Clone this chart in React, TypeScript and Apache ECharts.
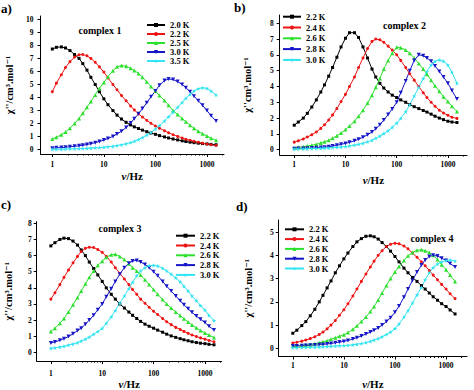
import React, { useEffect, useRef } from 'react';
import * as echarts from 'echarts';

// Frequencies (Hz) shared by all curves
const FREQ = [1, 1.2, 1.5, 1.8, 2.2, 2.7, 3.3, 3.9, 4.7, 5.6, 6.8, 8.2, 10, 12, 15, 18, 22, 27, 33, 39, 47, 56, 68, 82, 100, 120, 150, 180, 220, 270, 330, 390, 470, 560, 680, 820, 1000, 1200, 1500];

// Axis tick values
const X_MAJOR = [1, 10, 100, 1000];
const X_MINOR = [2, 3, 4, 5, 6, 7, 8, 9, 20, 30, 40, 50, 60, 70, 80, 90, 200, 300, 400, 500, 600, 700, 800, 900, 2000];
const Y_TICKS_A = [0, 1, 2, 3, 4, 5, 6, 7, 8, 9, 10];
const Y_TICKS_B = [0, 1, 2, 3, 4, 5, 6, 7, 8];
const Y_TICKS_C = [0, 1, 2, 3, 4, 5, 6, 7, 8];
const Y_TICKS_D = [0, 1, 2, 3, 4, 5];

// Legend temperatures
const TEMPS_A = ['2.0 K', '2.2 K', '2.5 K', '3.0 K', '3.5 K'];
const TEMPS_BCD = ['2.2 K', '2.4 K', '2.6 K', '2.8 K', '3.0 K'];

// complex 1
const A_20K = [7.72, 7.85, 7.88, 7.8, 7.6, 7.3, 7.0, 6.6, 6.1, 5.55, 5.0, 4.45, 3.9, 3.45, 3.0, 2.65, 2.35, 2.1, 1.9, 1.75, 1.62, 1.5, 1.38, 1.28, 1.18, 1.08, 0.98, 0.9, 0.82, 0.75, 0.68, 0.63, 0.58, 0.54, 0.5, 0.47, 0.44, 0.41, 0.38];
const A_22K = [4.45, 5.1, 5.75, 6.3, 6.75, 7.1, 7.28, 7.3, 7.2, 7.0, 6.7, 6.35, 5.95, 5.5, 5.0, 4.6, 4.15, 3.75, 3.35, 3.05, 2.75, 2.5, 2.25, 2.02, 1.82, 1.65, 1.45, 1.3, 1.15, 1.02, 0.9, 0.8, 0.72, 0.64, 0.57, 0.5, 0.44, 0.38, 0.32];
const A_25K = [0.82, 0.95, 1.15, 1.35, 1.65, 2.0, 2.4, 2.8, 3.25, 3.7, 4.2, 4.7, 5.15, 5.6, 6.05, 6.35, 6.45, 6.4, 6.25, 6.08, 5.85, 5.55, 5.2, 4.85, 4.5, 4.15, 3.78, 3.4, 3.0, 2.7, 2.4, 2.15, 1.88, 1.65, 1.42, 1.22, 1.05, 0.88, 0.72];
const A_30K = [0.12, 0.14, 0.16, 0.19, 0.22, 0.26, 0.3, 0.34, 0.4, 0.46, 0.54, 0.63, 0.74, 0.86, 1.02, 1.2, 1.42, 1.7, 2.05, 2.38, 2.75, 3.15, 3.6, 4.05, 4.5, 4.95, 5.3, 5.42, 5.38, 5.22, 5.0, 4.75, 4.45, 4.1, 3.75, 3.4, 3.0, 2.6, 2.2];
const A_35K = [0.03, 0.03, 0.04, 0.05, 0.06, 0.07, 0.08, 0.09, 0.1, 0.12, 0.14, 0.16, 0.19, 0.22, 0.27, 0.32, 0.38, 0.46, 0.55, 0.65, 0.78, 0.93, 1.12, 1.33, 1.58, 1.85, 2.2, 2.52, 2.88, 3.25, 3.62, 3.95, 4.25, 4.5, 4.68, 4.75, 4.7, 4.5, 4.2];

// complex 2
const B_22K = [1.55, 1.75, 2.0, 2.3, 2.7, 3.15, 3.65, 4.1, 4.65, 5.2, 5.85, 6.5, 7.05, 7.4, 7.4, 7.1, 6.5, 5.8, 5.1, 4.6, 4.2, 3.9, 3.65, 3.45, 3.3, 3.15, 3.0, 2.85, 2.72, 2.6, 2.48, 2.38, 2.25, 2.12, 2.0, 1.9, 1.8, 1.75, 1.72];
const B_24K = [0.48, 0.56, 0.68, 0.8, 0.95, 1.12, 1.35, 1.58, 1.88, 2.2, 2.6, 3.05, 3.5, 4.0, 4.6, 5.2, 5.8, 6.4, 6.85, 7.0, 6.95, 6.8, 6.55, 6.3, 6.0, 5.65, 5.2, 4.8, 4.4, 4.0, 3.6, 3.3, 3.0, 2.75, 2.5, 2.32, 2.18, 2.05, 1.98];
const B_26K = [0.12, 0.15, 0.19, 0.23, 0.28, 0.34, 0.42, 0.5, 0.6, 0.72, 0.88, 1.05, 1.27, 1.5, 1.8, 2.12, 2.5, 2.95, 3.45, 3.95, 4.5, 5.1, 5.65, 6.1, 6.48, 6.45, 6.3, 6.1, 5.8, 5.45, 5.1, 4.78, 4.4, 4.05, 3.7, 3.35, 3.05, 2.75, 2.42];
const B_28K = [0.06, 0.07, 0.08, 0.09, 0.1, 0.12, 0.14, 0.16, 0.19, 0.23, 0.28, 0.34, 0.4, 0.47, 0.56, 0.66, 0.79, 0.95, 1.12, 1.32, 1.58, 1.88, 2.22, 2.58, 3.0, 3.6, 4.35, 5.0, 5.65, 6.0, 5.95, 5.8, 5.6, 5.3, 4.95, 4.6, 4.2, 3.75, 3.2];
const B_30K = [0.04, 0.05, 0.05, 0.06, 0.07, 0.08, 0.09, 0.1, 0.11, 0.13, 0.15, 0.17, 0.2, 0.24, 0.29, 0.34, 0.41, 0.5, 0.6, 0.72, 0.86, 1.02, 1.2, 1.42, 1.68, 1.98, 2.4, 2.85, 3.4, 3.95, 4.5, 4.95, 5.35, 5.6, 5.68, 5.6, 5.35, 4.9, 4.2];

// complex 3
const C_22K = [6.6, 6.8, 7.0, 7.08, 7.05, 6.9, 6.65, 6.35, 6.0, 5.6, 5.2, 4.8, 4.4, 4.0, 3.6, 3.3, 3.0, 2.75, 2.5, 2.3, 2.1, 1.92, 1.75, 1.62, 1.5, 1.38, 1.25, 1.13, 1.02, 0.93, 0.85, 0.78, 0.72, 0.66, 0.61, 0.57, 0.54, 0.5, 0.47];
const C_24K = [3.3, 3.7, 4.2, 4.65, 5.1, 5.55, 5.95, 6.25, 6.45, 6.52, 6.5, 6.38, 6.2, 5.95, 5.6, 5.25, 4.9, 4.55, 4.2, 3.9, 3.6, 3.3, 3.05, 2.8, 2.55, 2.35, 2.1, 1.9, 1.72, 1.55, 1.42, 1.3, 1.18, 1.08, 0.98, 0.9, 0.82, 0.74, 0.66];
const C_26K = [1.3, 1.5, 1.8, 2.1, 2.5, 2.95, 3.4, 3.8, 4.25, 4.65, 5.05, 5.4, 5.65, 5.9, 6.05, 6.08, 5.95, 5.75, 5.5, 5.25, 5.05, 4.8, 4.5, 4.2, 3.9, 3.6, 3.28, 3.0, 2.75, 2.5, 2.28, 2.08, 1.88, 1.7, 1.52, 1.35, 1.2, 1.07, 0.93];
const C_28K = [0.58, 0.65, 0.75, 0.85, 0.98, 1.15, 1.35, 1.5, 1.75, 2.0, 2.3, 2.65, 3.0, 3.45, 3.95, 4.4, 4.85, 5.25, 5.52, 5.67, 5.7, 5.6, 5.45, 5.25, 5.0, 4.75, 4.4, 4.1, 3.8, 3.5, 3.2, 2.95, 2.7, 2.48, 2.25, 2.05, 1.85, 1.62, 1.38];
const C_30K = [0.25, 0.29, 0.33, 0.38, 0.45, 0.52, 0.6, 0.7, 0.82, 0.95, 1.12, 1.3, 1.5, 1.8, 2.2, 2.6, 3.05, 3.5, 3.95, 4.35, 4.75, 5.05, 5.25, 5.38, 5.4, 5.35, 5.22, 5.05, 4.85, 4.62, 4.38, 4.1, 3.8, 3.5, 3.2, 2.9, 2.62, 2.3, 1.97];

// complex 4
const D_22K = [0.65, 0.78, 0.98, 1.15, 1.4, 1.68, 2.0, 2.28, 2.6, 2.9, 3.25, 3.55, 3.85, 4.1, 4.38, 4.58, 4.72, 4.82, 4.84, 4.8, 4.7, 4.55, 4.38, 4.18, 3.95, 3.72, 3.45, 3.25, 3.05, 2.88, 2.7, 2.55, 2.38, 2.22, 2.07, 1.92, 1.8, 1.65, 1.48];
const D_24K = [0.23, 0.26, 0.31, 0.36, 0.42, 0.5, 0.6, 0.7, 0.84, 1.0, 1.2, 1.42, 1.66, 1.92, 2.25, 2.55, 2.88, 3.2, 3.5, 3.75, 4.0, 4.2, 4.38, 4.48, 4.52, 4.5, 4.4, 4.28, 4.1, 3.92, 3.72, 3.55, 3.35, 3.15, 2.95, 2.75, 2.55, 2.35, 2.14];
const D_26K = [0.1, 0.11, 0.13, 0.15, 0.17, 0.2, 0.24, 0.28, 0.33, 0.39, 0.46, 0.52, 0.58, 0.68, 0.82, 0.97, 1.15, 1.35, 1.58, 1.8, 2.08, 2.38, 2.7, 3.0, 3.28, 3.52, 3.78, 3.98, 4.12, 4.22, 4.24, 4.2, 4.12, 4.0, 3.82, 3.6, 3.38, 3.15, 2.88];
const D_28K = [0.1, 0.1, 0.11, 0.12, 0.13, 0.14, 0.15, 0.17, 0.19, 0.21, 0.24, 0.27, 0.3, 0.34, 0.4, 0.46, 0.53, 0.62, 0.7, 0.78, 0.88, 1.0, 1.15, 1.32, 1.55, 1.82, 2.2, 2.55, 2.92, 3.28, 3.58, 3.8, 3.95, 4.0, 3.97, 3.88, 3.78, 3.65, 3.5];
const D_30K = [0.03, 0.03, 0.04, 0.04, 0.05, 0.05, 0.06, 0.07, 0.08, 0.09, 0.1, 0.11, 0.12, 0.13, 0.15, 0.18, 0.21, 0.25, 0.3, 0.36, 0.42, 0.5, 0.6, 0.7, 0.85, 1.05, 1.35, 1.62, 1.95, 2.3, 2.62, 2.95, 3.25, 3.48, 3.63, 3.72, 3.78, 3.8, 3.76];

const SERIF = '"Liberation Serif", "Times New Roman", "DejaVu Serif", serif';
const COLORS = ['#000000', '#ee1414', '#2ee02e', '#1616c8', '#30e4f0'];
const STAR = 'path://M50,0 L61,35 L98,35 L68,57 L79,91 L50,70 L21,91 L32,57 L2,35 L39,35 Z';
const SYMBOLS = ['rect', 'circle', 'triangle', 'triangle', STAR];
const ROTATE = [0, 0, 0, 180, 0];
const SIZES = [3, 3, 4, 4, 4.5];

const PANELS = [
  {
    key: 'a', label: 'a)', title: 'complex 1', temps: TEMPS_A,
    values: [A_20K, A_22K, A_25K, A_30K, A_35K], yTicks: Y_TICKS_A,
    yName: "χ''/cm³.mol⁻¹",
    grid: { left: 40.5, top: 16, width: 183.5, height: 138 },
    yMin: -0.33, yMax: 10.25, xMin: 0.59, xMax: 2140,
    yNameGap: 26, xNameGap: 16, xLabelMargin: 6, yLabelMargin: 7,
    legend: { left: 146, top: 20.5, gap: 0, itemWidth: 18 },
    titlePos: [100, 30], labelPos: [1, 8],
  },
  {
    key: 'b', label: 'b)', title: 'complex 2', temps: TEMPS_BCD,
    values: [B_22K, B_24K, B_26K, B_28K, B_30K], yTicks: Y_TICKS_B,
    yName: "χ''cm³.mol⁻¹",
    grid: { left: 279.7, top: 15, width: 187.3, height: 140 },
    yMin: -0.335, yMax: 8.52, xMin: 0.52, xMax: 2360,
    yNameGap: 27, xNameGap: 19, xLabelMargin: 5.5, yLabelMargin: 6,
    legend: { left: 282, top: 12.2, gap: 1.8, itemWidth: 18 },
    titlePos: [404.5, 25], labelPos: [234, 7],
  },
  {
    key: 'c', label: 'c)', title: 'complex 3', temps: TEMPS_BCD,
    values: [C_22K, C_24K, C_26K, C_28K, C_30K], yTicks: Y_TICKS_C,
    yName: "χ''/cm³.mol⁻¹",
    grid: { left: 36.7, top: 221.7, width: 185, height: 143.3 },
    yMin: -0.54, yMax: 8.1, xMin: 0.53, xMax: 2120,
    yNameGap: 23, xNameGap: 13.5, xLabelMargin: 8, yLabelMargin: 5,
    legend: { left: 175, top: 231.2, gap: 0.8, itemWidth: 19 },
    titlePos: [120, 228.3], labelPos: [1, 204],
  },
  {
    key: 'd', label: 'd)', title: 'complex 4', temps: TEMPS_BCD,
    values: [D_22K, D_24K, D_26K, D_28K, D_30K], yTicks: Y_TICKS_D,
    yName: "χ''/cm³.mol⁻¹",
    grid: { left: 278.7, top: 220, width: 188.3, height: 141.7 },
    yMin: -0.35, yMax: 5.52, xMin: 0.53, xMax: 2570,
    yNameGap: 25, xNameGap: 21.5, xLabelMargin: 5.3, yLabelMargin: 5,
    legend: { left: 284, top: 224.8, gap: 0.8, itemWidth: 19 },
    titlePos: [432, 238], labelPos: [236, 206],
  },
];

function buildOption() {
  const grid: any[] = [];
  const xAxis: any[] = [];
  const yAxis: any[] = [];
  const series: any[] = [];
  const legend: any[] = [];
  const graphic: any[] = [];
  const tickLabel = { fontFamily: SERIF, fontWeight: 'bold', fontSize: 7.5, color: '#000' };

  PANELS.forEach((p, pi) => {
    grid.push({ ...p.grid, containLabel: false });
    xAxis.push({
      type: 'log', gridIndex: pi, position: 'bottom', min: p.xMin, max: p.xMax, logBase: 10,
      axisLine: { show: true, onZero: false, lineStyle: { color: '#000', width: 1 } },
      axisTick: { show: true, inside: false, length: 3, customValues: X_MAJOR, lineStyle: { color: '#000' } },
      axisLabel: { ...tickLabel, margin: p.xLabelMargin, customValues: X_MAJOR, formatter: (v: number) => String(Math.round(v)) },
      splitLine: { show: false }, minorTick: { show: false },
      name: '{i|ν}{n|/Hz}', nameLocation: 'middle', nameGap: p.xNameGap,
      nameTextStyle: {
        rich: {
          i: { fontFamily: SERIF, fontWeight: 'bold', fontStyle: 'italic', fontSize: 11, color: '#000' },
          n: { fontFamily: SERIF, fontWeight: 'bold', fontSize: 11, color: '#000' },
        },
      },
    });
    xAxis.push({
      type: 'log', gridIndex: pi, position: 'bottom', min: p.xMin, max: p.xMax, logBase: 10,
      axisLine: { show: false, onZero: false },
      axisTick: { show: true, inside: false, length: 1.5, customValues: X_MINOR, lineStyle: { color: '#000' } },
      axisLabel: { show: false },
      splitLine: { show: false },
    });
    yAxis.push({
      type: 'value', gridIndex: pi, min: p.yMin, max: p.yMax,
      axisLine: { show: true, onZero: false, lineStyle: { color: '#000', width: 1 } },
      axisTick: { show: true, inside: false, length: 3, customValues: p.yTicks, lineStyle: { color: '#000' } },
      axisLabel: { ...tickLabel, margin: p.yLabelMargin, customValues: p.yTicks, formatter: (v: number) => String(v) },
      splitLine: { show: false },
      name: p.yName, nameLocation: 'middle', nameGap: p.yNameGap, nameRotate: 90,
      nameTextStyle: { fontFamily: SERIF, fontWeight: 'bold', fontSize: 10.5, color: '#000' },
    });
    const names: string[] = [];
    p.values.forEach((vals, ci) => {
      const name = p.key + '|' + p.temps[ci];
      names.push(name);
      series.push({
        type: 'line', name, xAxisIndex: pi * 2, yAxisIndex: pi,
        data: FREQ.map((f, i) => [f, vals[i]]),
        symbol: SYMBOLS[ci], symbolRotate: ROTATE[ci], symbolSize: SIZES[ci],
        showSymbol: true, showAllSymbol: true,
        itemStyle: { color: COLORS[ci] },
        lineStyle: { color: COLORS[ci], width: 1 },
        clip: false, silent: true,
      });
    });
    legend.push({
      data: names, orient: 'vertical', left: p.legend.left, top: p.legend.top,
      itemWidth: p.legend.itemWidth, itemHeight: 5, itemGap: p.legend.gap, padding: 0,
      selectedMode: false,
      formatter: (n: string) => n.split('|')[1],
      textStyle: { fontFamily: SERIF, fontWeight: 'bold', fontSize: 8.5, color: '#000', lineHeight: 9 },
    });
    graphic.push({
      type: 'text', x: p.titlePos[0], y: p.titlePos[1],
      style: { text: p.title, fontFamily: SERIF, fontWeight: 'bold', fontSize: 10, fill: '#000', textAlign: 'center', textVerticalAlign: 'middle' },
    });
    graphic.push({
      type: 'text', x: p.labelPos[0], y: p.labelPos[1],
      style: { text: p.label, fontFamily: SERIF, fontWeight: 'bold', fontSize: 13, fill: '#000', textAlign: 'left', textVerticalAlign: 'middle' },
    });
  });

  return {
    animation: false,
    backgroundColor: '#ffffff',
    grid, xAxis, yAxis, series, legend, graphic,
  };
}

export default function App() {
  const ref = useRef<HTMLDivElement>(null);
  useEffect(() => {
    if (!ref.current) return;
    const chart = echarts.init(ref.current, null, { renderer: 'svg' });
    chart.setOption(buildOption() as any);
    return () => chart.dispose();
  }, []);
  return (
    <div
      ref={ref}
      style={{ position: 'fixed', left: 0, top: 0, width: 474, height: 390, background: '#fff' }}
    />
  );
}
